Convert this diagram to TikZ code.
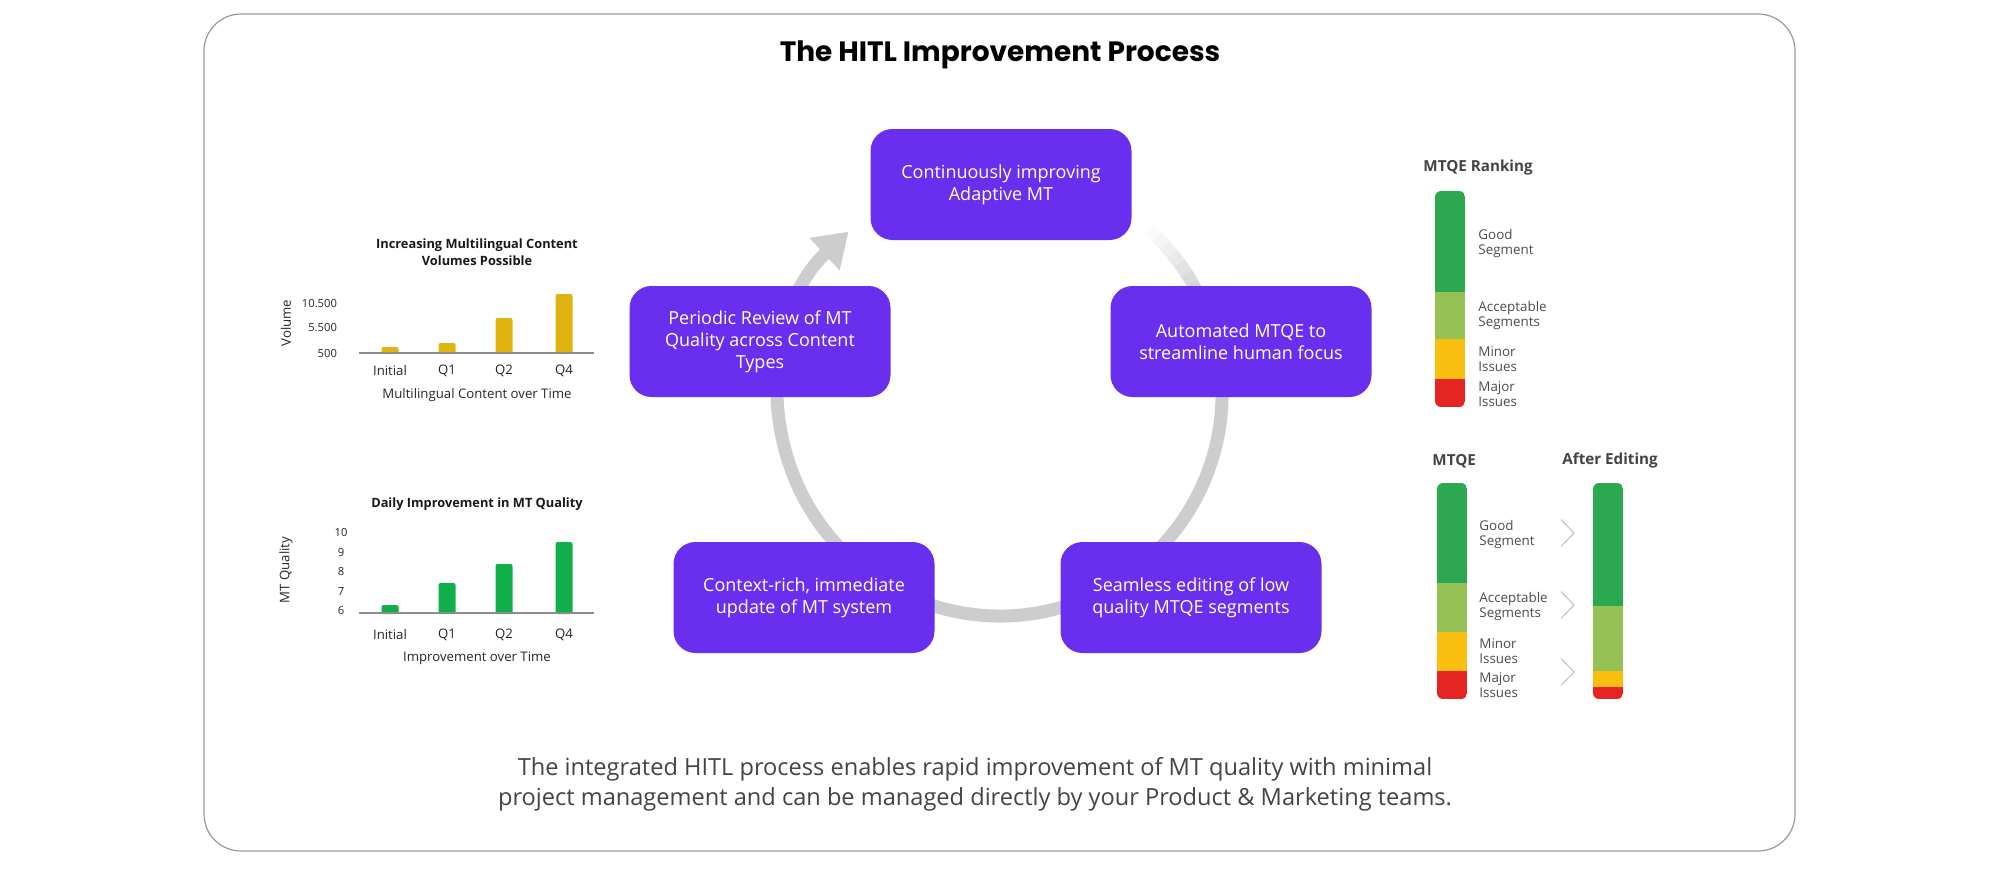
\documentclass[tikz,border=0pt]{standalone}
\usepackage{fontspec}
\setmainfont{Open Sans}
\newfontfamily\titlefont{Poppins}
\usepackage{tikz}
\usetikzlibrary{arrows.meta}
\definecolor{hitlPurple}{HTML}{6A2FEE}
\definecolor{ringGray}{HTML}{CDCDCD}
\definecolor{barGold}{HTML}{E0B40F}
\definecolor{barGreen}{HTML}{0FB04A}
\definecolor{goodGreen}{HTML}{2CA850}
\definecolor{okGreen}{HTML}{95C155}
\definecolor{minorAmber}{HTML}{FABE10}
\definecolor{majorRed}{HTML}{E42522}
\definecolor{textGray}{HTML}{444444}

\begin{document}
\begin{tikzpicture}[x=0.5pt, y=-0.5pt,
  procbox/.style={rounded corners=11pt, fill=hitlPurple, text=white,
    minimum width=130.5pt, minimum height=55.5pt, inner sep=0pt,
    align=center, font=\fontsize{9}{11}\selectfont},
  charttitle/.style={align=center, text=black!90,
    font=\fontsize{6.4}{8.5}\selectfont\bfseries},
  ticklbl/.style={text=black!85, font=\fontsize{5.6}{6.5}\selectfont},
  axislabel/.style={text=black!85, font=\fontsize{6.6}{7.5}\selectfont},
  seglbl/.style={anchor=west, align=left, inner xsep=0pt, text=black!70,
    font=\fontsize{6.7}{7.5}\selectfont},
  colhead/.style={anchor=west, inner xsep=0pt, text=textGray,
    font=\fontsize{7.6}{9}\selectfont\bfseries},
  ]
  \useasboundingbox (0,0) rectangle (2000,872);
  % frame and title
  \draw[black!40, line width=0.6pt, rounded corners=18.5pt] (204,14) rectangle (1795,851);
  \node[font=\titlefont\fontsize{14}{16}\selectfont\bfseries] (title) at (1000,55) {The HITL Improvement Process};

  % cycle ring, fading in at the top right
  \foreach \a/\o in {-48/0.08, -45/0.2, -42/0.32, -39/0.45, -36/0.58, -33/0.72, -30/0.86} {
    \draw[ringGray, line width=6.5pt, opacity=\o] (1000,394) ++(\a:222) arc[start angle=\a, end angle=\a+3, radius=222];
  }
  \draw[ringGray, line width=6.5pt, -{Triangle[length=16.5pt, width=21pt]}]
    (1000,394) ++(-27:222) arc[start angle=-27, end angle=227, radius=222];

  % process steps
  \node[procbox] (adapt) at (1001,184.5) {Continuously improving\\Adaptive MT};
  \node[procbox] (mtqe) at (1241,341.5) {Automated MTQE to\\streamline human focus};
  \node[procbox] (edit) at (1191,597.5) {Seamless editing of low\\quality MTQE segments};
  \node[procbox] (update) at (804,597.5) {Context-rich, immediate\\update of MT system};
  \node[procbox] (review) at (760,341.5) {Periodic Review of MT\\Quality across Content\\Types};

  % volume chart
  \node[charttitle] (voltitle) at (477,252.5) {Increasing Multilingual Content\\Volumes Possible};
  \foreach \x/\top/\lab in {390/347/Initial, 447/343/Q1, 504/318/Q2, 564/294/Q4} {
    \fill[barGold, rounded corners=1pt] (\x-8.5,354) rectangle (\x+8.5,\top);
    \node[axislabel] (vol\lab) at (\x,371) {\lab};
  }
  \draw[black!45, line width=0.6pt] (359,353) -- (594,353);
  \foreach \y/\v in {304/10.500, 328/5.500, 353/500}
    \node[ticklbl, anchor=east] (voly\y) at (344,\y) {\v};
  \node[axislabel, rotate=90] (volaxis) at (286,323) {Volume};
  \node[axislabel] (volx) at (477,395) {Multilingual Content over Time};

  % quality chart
  \node[charttitle] (qtitle) at (477,504) {Daily Improvement in MT Quality};
  \foreach \x/\top/\lab in {390/605/Initial, 447/583/Q1, 504/564/Q2, 564/542/Q4} {
    \fill[barGreen, rounded corners=1pt] (\x-8.5,614) rectangle (\x+8.5,\top);
    \node[axislabel] (q\lab) at (\x,635) {\lab};
  }
  \draw[black!45, line width=0.6pt] (359,613) -- (594,613);
  \foreach \y/\v in {532/10, 552/9, 571/8, 591/7, 610/6}
    \node[ticklbl] (qy\v) at (341,\y) {\v};
  \node[axislabel, rotate=90] (qaxis) at (286,570) {MT Quality};
  \node[axislabel] (qx) at (477,658) {Improvement over Time};

  % MTQE ranking
  \node[colhead] (rank) at (1423,168) {MTQE Ranking};
  \begin{scope}
    \clip[rounded corners=3pt] (1435,191) rectangle (1465,407);
    \foreach \ya/\yb/\c in {191/292/goodGreen, 292/339/okGreen, 339/379/minorAmber, 379/407/majorRed}
      \fill[\c] (1435,\ya) rectangle (1465,\yb);
  \end{scope}
  \node[seglbl] (rkgood) at (1478,243.5) {Good\\Segment};
  \node[seglbl] (rkok) at (1478,315.5) {Acceptable\\Segments};
  \node[seglbl] (rkminor) at (1478,359) {Minor\\Issues};
  \node[seglbl] (rkmajor) at (1478,394) {Major\\Issues};

  % before / after editing
  \node[colhead] (before) at (1432,461) {MTQE};
  \node[colhead] (after) at (1562,461) {After Editing};
  \begin{scope}
    \clip[rounded corners=3pt] (1437,483) rectangle (1467,699);
    \foreach \ya/\yb/\c in {483/583/goodGreen, 583/632/okGreen, 632/671/minorAmber, 671/699/majorRed}
      \fill[\c] (1437,\ya) rectangle (1467,\yb);
  \end{scope}
  \begin{scope}
    \clip[rounded corners=3pt] (1593,483) rectangle (1623,699);
    \foreach \ya/\yb/\c in {483/606/goodGreen, 606/671/okGreen, 671/687/minorAmber, 687/699/majorRed}
      \fill[\c] (1593,\ya) rectangle (1623,\yb);
  \end{scope}
  \node[seglbl] (bfgood) at (1479,535) {Good\\Segment};
  \node[seglbl] (bfok) at (1479,606.5) {Acceptable\\Segments};
  \node[seglbl] (bfminor) at (1479,651) {Minor\\Issues};
  \node[seglbl] (bfmajor) at (1479,685.5) {Major\\Issues};
  \foreach \y in {533,605,672}
    \draw[black!25, line width=0.5pt] (1561,\y-13.5) -- (1574,\y) -- (1561,\y+13.5);

  % summary
  \node[text=textGray, align=center, font=\fontsize{11.8}{15}\selectfont] (summary) at (975,784)
    {The integrated HITL process enables rapid improvement of MT quality with minimal\\project management and can be managed directly by your Product \& Marketing teams.};
\end{tikzpicture}
\end{document}
